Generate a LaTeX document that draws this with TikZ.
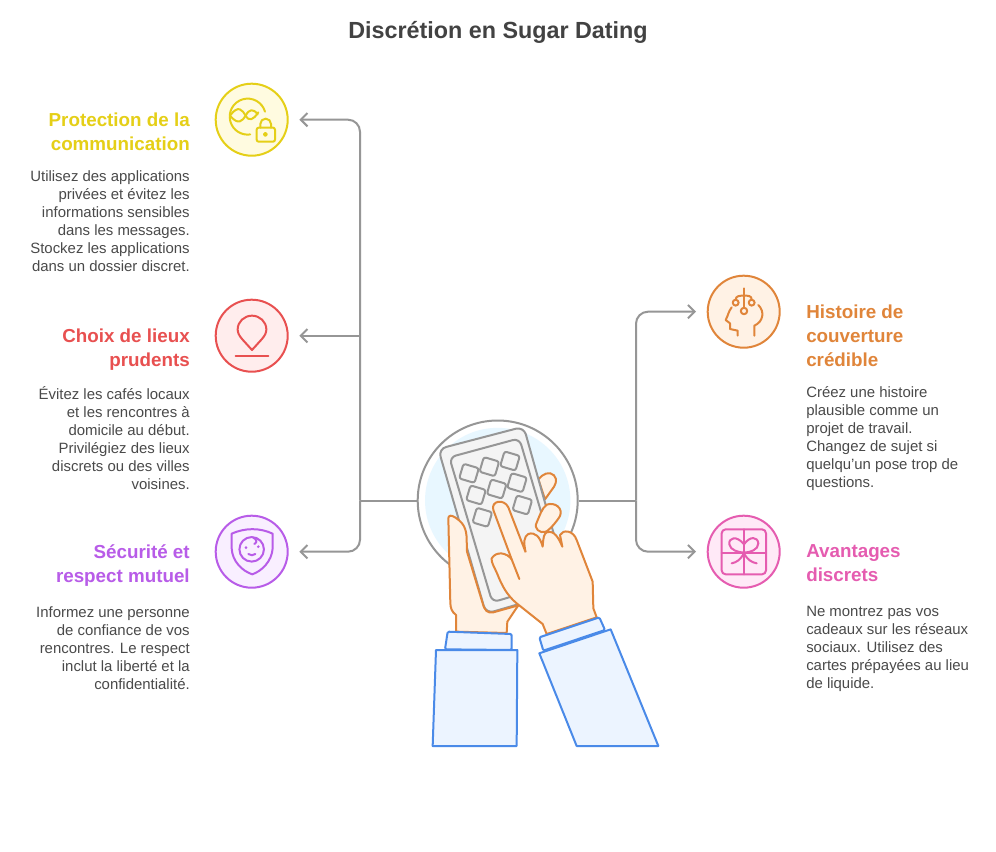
\documentclass[tikz,border=0pt]{standalone}
\usepackage{fontspec}
\setmainfont{Liberation Sans}
\usetikzlibrary{arrows.meta}
\definecolor{cgrey}{HTML}{969696}
\definecolor{ctxt}{HTML}{4A4A4A}
\definecolor{ctitle}{HTML}{424242}
\definecolor{cyel}{HTML}{E5CF17}\definecolor{fyel}{HTML}{FFFBE0}
\definecolor{cred}{HTML}{E85050}\definecolor{fred}{HTML}{FFEDED}
\definecolor{cpur}{HTML}{B85CE8}\definecolor{fpur}{HTML}{F9EFFF}
\definecolor{cora}{HTML}{E0853A}\definecolor{fora}{HTML}{FFF2E5}
\definecolor{cpin}{HTML}{E55CB0}\definecolor{fpin}{HTML}{FFE9F7}
\definecolor{cblu}{HTML}{4A8AE8}\definecolor{fblu}{HTML}{ECF4FF}
\definecolor{flight}{HTML}{E8F7FF}\definecolor{fphone}{HTML}{F4F4F4}
\tikzset{
  iconc/.style={circle,minimum size=54pt,inner sep=0pt,line width=1.5pt},
  zm/.style={x=.25pt,y=-.25pt},
  glyph/.style={line width=1.5pt,line cap=round,line join=round},
  conn/.style={draw=cgrey,line width=1.5pt,rounded corners=9pt},
  arrowed/.style={-{Straight Barb[length=5pt,width=10pt,line width=1.5pt]},shorten >=8pt},
  headl/.style={anchor=north east,align=right,inner sep=0pt,font=\fontsize{14.1pt}{18pt}\selectfont\bfseries},
  bodyl/.style={anchor=north east,align=right,inner sep=0pt,text=ctxt,font=\fontsize{11.2pt}{13.5pt}\selectfont},
  headr/.style={anchor=north west,align=left,inner sep=0pt,font=\fontsize{14.1pt}{18pt}\selectfont\bfseries},
  bodyr/.style={anchor=north west,align=left,inner sep=0pt,text=ctxt,font=\fontsize{11.2pt}{13.5pt}\selectfont},
  hand/.style={draw=cora,fill=fora,line width=1.5pt,line join=round},
  sleeve/.style={draw=cblu,fill=fblu,line width=1.5pt,line join=round},
  gr/.style={draw=cgrey,line width=1.5pt,line join=round},
  key/.style={gr,fill=fphone,rounded corners=1.8pt},
}
\begin{document}
\begin{tikzpicture}[x=.75pt,y=-.75pt]
\useasboundingbox (0,0) rectangle (996,852);
\fill[white] (0,0) rectangle (996,852);
\node[font=\fontsize{17.5pt}{22pt}\selectfont\bfseries,text=ctitle,inner sep=0pt] (title) at (498,32) {Discrétion en Sugar Dating};

\node[iconc,draw=cyel,fill=fyel] (i1) at (251.7,119.7) {};
\node[iconc,draw=cred,fill=fred] (i2) at (251.7,335.7) {};
\node[iconc,draw=cpur,fill=fpur] (i3) at (251.7,551.7) {};
\node[iconc,draw=cora,fill=fora] (i4) at (743.7,311.7) {};
\node[iconc,draw=cpin,fill=fpin] (i5) at (743.7,551.7) {};
\node[circle,minimum size=120pt,inner sep=0pt,draw=cgrey,line width=1.5pt,fill=white] (hub) at (497.7,500.5) {};
\fill[flight] (hub.center) circle[radius=54.5pt];

\coordinate (jl) at (360,500.5);
\coordinate (jr) at (636,500.5);
\draw[conn] (hub.west) -- (jl);
\draw[conn] (hub.east) -- (jr);
\draw[conn,arrowed] (jl) |- (i1.east);
\draw[conn,arrowed,rounded corners=0pt] (jl |- i2.east) -- (i2.east);
\draw[conn,arrowed] (jl) |- (i3.east);
\draw[conn,arrowed] (jr) |- (i4.west);
\draw[conn,arrowed] (jr) |- (i5.west);

% central illustration
\begin{scope}[shift={(400,400)},zm]
  % fingers behind the phone
  \draw[hand] (415,238) .. controls (428,222) and (448,212) .. (462,226) .. controls (475,240) and (465,258) .. (455,270) -- (435,298) -- cycle;
  % phone
  \draw[gr,fill=fphone,rounded corners=6pt] (115,147) -- (371,80) -- (508,568) -- (258,641) -- cycle;
  \draw[gr,rounded corners=5pt] (148,172) -- (358,115) -- (485,545) -- (277,607) -- cycle;
  \foreach \cx/\cy in {207/220,268/200,330/183,228/285,290/267,351/248,247/352,367/315}
    \draw[key,rotate around={-16.5:(\cx,\cy)}] (\cx-24,\cy-23) rectangle (\cx+24,\cy+23);
  \draw[hand] (410,368) .. controls (400,385) and (420,402) .. (438,395) .. controls (450,388) and (470,365) .. (480,348) .. controls (490,325) and (465,305) .. (440,314) .. controls (425,325) and (418,350) .. (410,368) -- cycle;
  % left hand
  \draw[hand] (145,355) .. controls (145,345) and (155,345) .. (165,352) .. controls (190,368) and (200,385) .. (200,420) -- (201,455) -- (248,610) .. controls (254,632) and (262,640) .. (280,637) -- (355,616) -- (322,665) -- (320,699) -- (168,695) -- (168,645) .. controls (155,635) and (152,625) .. (151,610) -- cycle;
  % right hand
  \draw[hand] (377,457) -- (325,322) .. controls (312,295) and (272,302) .. (280,330) -- (335,478) .. controls (320,458) and (290,452) .. (275,475) .. controls (272,485) and (285,505) .. (292,522) .. controls (305,555) and (320,585) .. (350,610) -- (428,672) -- (440,702) -- (590,652) -- (580,625) -- (578,545) -- (530,420) .. controls (520,390) and (488,388) .. (480,405) -- (487,440) .. controls (475,412) and (462,390) .. (440,397) .. controls (432,402) and (430,410) .. (428,440) .. controls (420,410) and (405,395) .. (385,402) .. controls (372,410) and (370,425) .. (377,457);
  \draw[draw=cora,line width=1.5pt,line cap=round] (335,478) -- (358,537);
  % sleeves
  \draw[sleeve,rounded corners=1pt] (135,748) -- (143,695) -- (335,702) -- (335,750) -- cycle;
  \draw[sleeve] (108,750) -- (98,1038) -- (350,1038) -- (352,750) -- cycle;
  \draw[sleeve,rounded corners=1pt] (430,752) -- (418,712) -- (598,652) -- (615,690) -- cycle;
  \draw[sleeve] (418,760) -- (530,1038) -- (775,1038) -- (632,688) -- cycle;
\end{scope}

% icon 1: globe, dna and lock
\begin{scope}[shift={(205,75)},zm,glyph,draw=cyel]
  \draw (180,110) arc[start angle=16,end angle=278,radius=13.5pt];
  \draw (75,122) .. controls (100,88) and (112,105) .. (122,122) .. controls (132,140) and (145,135) .. (160,112);
  \draw (75,122) .. controls (100,152) and (112,138) .. (122,122) .. controls (132,102) and (145,100) .. (158,118);
  \draw[fill=fyel,rounded corners=1.5pt] (155,158) rectangle (210,200);
  \draw (166,158) -- (166,147) arc[start angle=180,end angle=0,radius=4pt] -- (198,158);
  \draw (181,178) circle[radius=1.1pt];
\end{scope}
% icon 2: pin
\begin{scope}[shift={(205,290)},zm,glyph,draw=cred]
  \draw (141,180) -- (112,148) .. controls (100,135) and (98,125) .. (98,118) .. controls (98,95) and (118,77) .. (141,77) .. controls (164,77) and (184,95) .. (184,118) .. controls (184,125) and (182,135) .. (170,148) -- cycle;
  \draw (92,197) -- (190,197);
\end{scope}
% icon 3: shield with face
\begin{scope}[shift={(205,505)},zm,glyph,draw=cpur]
  \draw (80,86) .. controls (120,68) and (165,68) .. (203,86) -- (203,130) .. controls (200,170) and (170,198) .. (142,208) .. controls (112,198) and (82,170) .. (80,130) -- cycle;
  \draw (140,133) circle[radius=9.2pt];
  \draw (145,98) .. controls (155,103) and (158,112) .. (148,117);
  \fill[cpur] (123,128) circle[radius=1.1pt] (160,125) circle[radius=1.1pt];
  \draw (130,147) .. controls (137,152) and (145,152) .. (151,147);
\end{scope}
% icon 4: head with scales
\begin{scope}[shift={(695,265)},zm,glyph,draw=cora]
  \draw (147,70) -- (147,128);
  \draw (122,104) .. controls (122,92) and (135,92) .. (147,92) .. controls (160,92) and (170,92) .. (170,104);
  \draw (122,113) circle[radius=2.2pt] (170,113) circle[radius=2.2pt] (147,138) circle[radius=2.4pt];
  \draw (110,127) .. controls (100,140) and (100,150) .. (92,165) -- (105,175) -- (105,192) -- (128,197) -- (128,212);
  \draw (190,120) .. controls (210,140) and (205,170) .. (178,182) -- (178,212);
\end{scope}
% icon 5: gift
\begin{scope}[shift={(695,505)},zm,glyph,draw=cpin]
  \draw[rounded corners=3pt] (80,73) rectangle (213,208);
  \draw (147,73) -- (147,208) (80,145) -- (213,145);
  \draw (147,118) .. controls (125,90) and (100,98) .. (103,118) .. controls (105,135) and (130,142) .. (147,143) .. controls (165,142) and (190,135) .. (190,115) .. controls (188,95) and (165,92) .. (147,118);
  \draw (147,145) .. controls (135,165) and (125,172) .. (110,175);
  \draw (147,145) .. controls (158,165) and (170,172) .. (185,175);
\end{scope}

% texts
\node[headl,text=cyel] (h1) at (190,112.5) {Protection de la\\communication};
\node[bodyl] (b1) at (190,170) {Utilisez des applications\\privées et évitez les\\informations sensibles\\dans les messages.\\Stockez les applications\\dans un dossier discret.};
\node[headl,text=cred] (h2) at (190,328.5) {Choix de lieux\\prudents};
\node[bodyl] (b2) at (190,386) {Évitez les cafés locaux\\et les rencontres à\\domicile au début.\\Privilégiez des lieux\\discrets ou des villes\\voisines.};
\node[headl,text=cpur] (h3) at (190,544.5) {Sécurité et\\respect mutuel};
\node[bodyl] (b3) at (190,606) {Informez une personne\\de confiance de vos\\rencontres. Le respect\\inclut la liberté et la\\confidentialité.};
\node[headr,text=cora] (h4) at (806,304.5) {Histoire de\\couverture\\crédible};
\node[bodyr] (b4) at (806,386) {Créez une histoire\\plausible comme un\\projet de travail.\\Changez de sujet si\\quelqu'un pose trop de\\questions.};
\node[headr,text=cpin] (h5) at (806,544.5) {Avantages\\discrets};
\node[bodyr] (b5) at (806,606) {Ne montrez pas vos\\cadeaux sur les réseaux\\sociaux. Utilisez des\\cartes prépayées au lieu\\de liquide.};
\end{tikzpicture}
\end{document}
